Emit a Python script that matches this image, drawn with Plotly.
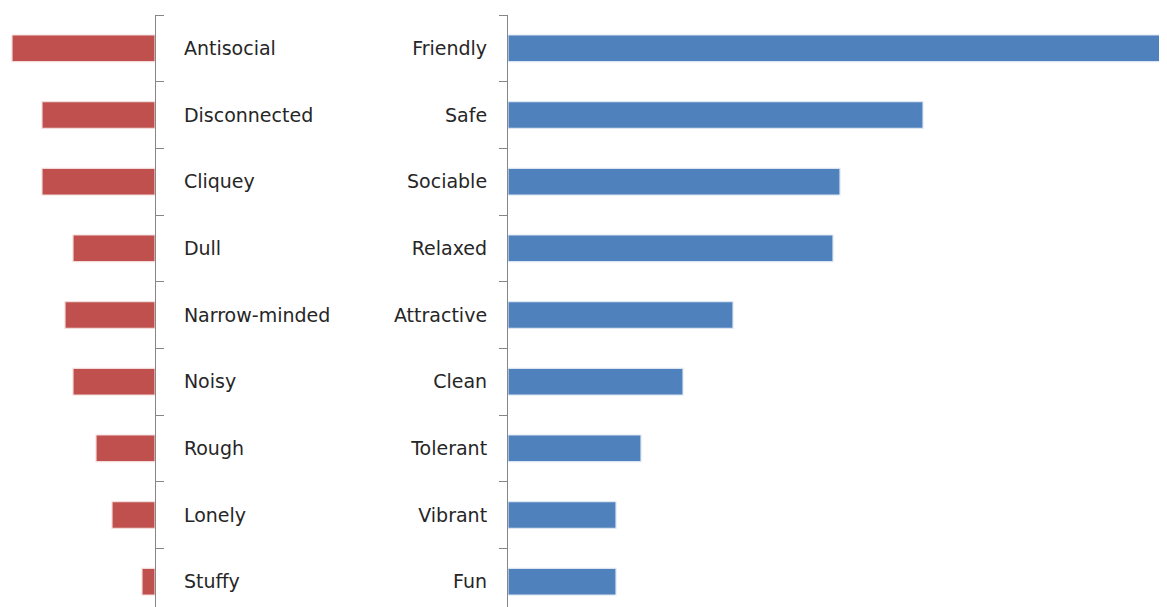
import plotly.graph_objects as go

neg_labels = ["Antisocial", "Disconnected", "Cliquey", "Dull", "Narrow-minded",
              "Noisy", "Rough", "Lonely", "Stuffy"]
neg_values = [7.15, 5.65, 5.65, 4.1, 4.5, 4.1, 2.95, 2.15, 0.65]

pos_labels = ["Friendly", "Safe", "Sociable", "Relaxed", "Attractive",
              "Clean", "Tolerant", "Vibrant", "Fun"]
pos_values = [32.75, 20.75, 16.6, 16.25, 11.25, 8.75, 6.65, 5.4, 5.4]

# the page adds an 8px body margin, so the figure is sized to fill the rest
OFF = 8
W, H = 1167 - OFF, 607 - OFF
left_axis_px = 155 - OFF
right_axis_px = 508 - OFF
top_px = 15 - OFF
px_per_unit = 20.0

red = "#C0504D"
blue = "#4F81BD"
axis_gray = "#868686"
text_color = "#262626"
font_family = "DejaVu Sans"

fig = go.Figure()
fig.add_trace(go.Bar(
    x=neg_values, y=neg_labels, orientation="h",
    marker=dict(color=red, line=dict(color="#F2DCDB", width=1.2)),
    xaxis="x", yaxis="y", showlegend=False,
))
fig.add_trace(go.Bar(
    x=pos_values, y=pos_labels, orientation="h",
    marker=dict(color=blue, line=dict(color="#DCE6F2", width=1.2)),
    xaxis="x2", yaxis="y2", showlegend=False,
))

bottom_cut = 8.38  # bottom of chart is cropped in the picture
common_y = dict(
    type="category", tickson="boundaries", ticks="outside", ticklen=8,
    tickcolor=axis_gray, showline=True, linecolor=axis_gray, linewidth=1.2,
    showgrid=False, zeroline=False, range=[bottom_cut, -0.5],
    tickfont=dict(family=font_family, size=19, color=text_color),
    domain=[0, 1 - top_px / H], fixedrange=True, automargin=False,
)

fig.update_layout(
    template="none",
    width=W, height=H,
    margin=dict(l=0, r=0, t=0, b=0, pad=0, autoexpand=False),
    paper_bgcolor="white", plot_bgcolor="white",
    bargap=0.6,
    xaxis=dict(domain=[0, left_axis_px / W],
               range=[left_axis_px / px_per_unit, 0],
               visible=False, fixedrange=True, automargin=False),
    yaxis=dict(anchor="x", side="right", ticklabelstandoff=24, **common_y),
    xaxis2=dict(domain=[right_axis_px / W, 1],
                range=[0, (W - right_axis_px) / px_per_unit],
                visible=False, fixedrange=True, automargin=False),
    yaxis2=dict(anchor="x2", side="left", ticklabelstandoff=16, **common_y),
)

fig.write_html("out.html")
